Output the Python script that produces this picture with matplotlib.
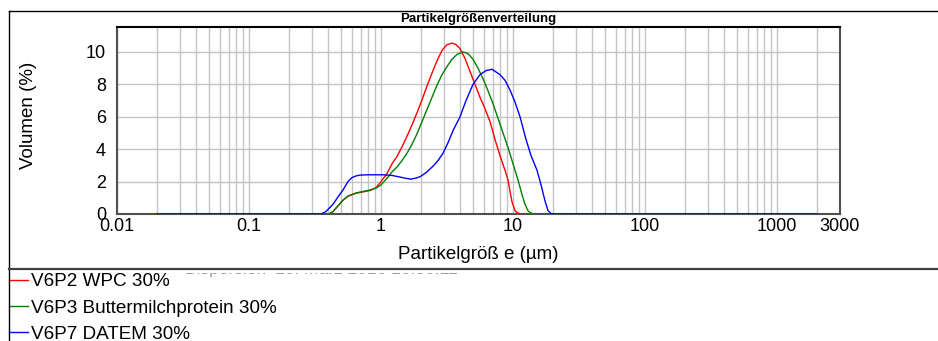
import matplotlib
matplotlib.use("Agg")
import matplotlib.pyplot as plt
from matplotlib.lines import Line2D
from matplotlib.patches import Rectangle
from matplotlib.ticker import FixedLocator, LogLocator, NullFormatter

plt.rcParams['font.family'] = ['Liberation Sans', 'DejaVu Sans']

# Partikelgröße in µm und Volumen in % je Probe
size_wpc = [0.02, 0.30, 0.404, 0.433, 0.472, 0.515, 0.562, 0.647, 0.743, 0.825,
            0.917, 1.0, 1.110, 1.212, 1.322, 1.443, 1.574, 1.718, 1.874, 2.045,
            2.231, 2.434, 2.656, 2.898, 3.162, 3.450, 3.700, 3.968, 4.329, 4.723,
            5.153, 5.623, 6.135, 6.694, 7.303, 7.971, 8.697, 9.165, 9.49, 9.826,
            10.36, 10.91, 11.70, 2000]
vol_wpc = [0, 0, 0, 0.15, 0.5, 0.85, 1.1, 1.28, 1.38, 1.45,
           1.62, 2.0, 2.5, 3.1, 3.55, 4.15, 4.8, 5.5, 6.25, 7.05,
           7.9, 8.7, 9.45, 10.1, 10.45, 10.55, 10.45, 10.2, 9.6, 8.8,
           8.0, 7.2, 6.5, 5.7, 4.6, 3.6, 2.7, 2.1, 1.4, 0.75,
           0.2, 0.05, 0, 0]

size_bmp = [0.02, 0.30, 0.404, 0.433, 0.472, 0.515, 0.562, 0.647, 0.743, 0.825,
            0.917, 1.0, 1.110, 1.212, 1.322, 1.443, 1.574, 1.718, 1.874, 2.045,
            2.231, 2.434, 2.656, 2.898, 3.162, 3.450, 3.766, 4.180, 4.561, 4.978,
            5.430, 5.926, 6.467, 7.058, 7.701, 8.40, 9.165, 10.0, 10.91, 11.70,
            12.33, 12.99, 13.69, 14.68, 2000]
vol_bmp = [0, 0, 0, 0.15, 0.5, 0.85, 1.1, 1.3, 1.4, 1.48,
           1.6, 1.8, 2.2, 2.6, 2.9, 3.3, 3.75, 4.3, 4.95, 5.7,
           6.45, 7.2, 7.95, 8.6, 9.1, 9.55, 9.85, 10.0, 9.9, 9.55,
           9.0, 8.35, 7.6, 6.8, 5.9, 5.0, 4.1, 3.1, 2.1, 1.2,
           0.6, 0.2, 0.05, 0, 0]

size_datem = [0.02, 0.30, 0.351, 0.383, 0.433, 0.472, 0.515, 0.562, 0.603, 0.647,
              0.693, 0.797, 1.036, 1.212, 1.393, 1.546, 1.688, 1.842, 1.975, 2.193,
              2.477, 2.703, 2.950, 3.219, 3.513, 3.968, 4.405, 4.978, 5.623, 6.246,
              6.934, 7.971, 8.697, 9.49, 10.36, 11.30, 12.55, 13.69, 14.18, 15.20,
              16.30, 17.48, 18.42, 19.41, 20.81, 2000]
vol_datem = [0, 0, 0, 0.15, 0.6, 1.05, 1.48, 2.0, 2.25, 2.35,
             2.4, 2.42, 2.42, 2.38, 2.28, 2.2, 2.15, 2.22, 2.3, 2.55,
             2.95, 3.3, 3.75, 4.4, 5.15, 6.0, 7.0, 8.0, 8.6, 8.85,
             8.93, 8.6, 8.25, 7.65, 6.9, 6.0, 4.6, 3.6, 3.3, 2.7,
             1.8, 0.8, 0.2, 0.03, 0, 0]

labels = ["V6P2 WPC 30%", "V6P3 Buttermilchprotein 30%", "V6P7 DATEM 30%"]
colors = ["#ff0000", "#008000", "#0000ff"]

x_ticks = [0.01, 0.1, 1, 10, 100, 1000, 3000]
x_ticklabels = ["0.01", "0.1", "1", "10", "100", "1000", "3000"]
y_ticks = [0, 2, 4, 6, 8, 10]

fig = plt.figure(figsize=(9.38, 3.41), dpi=100)
axis = fig.add_axes([117 / 938, 1 - 214 / 341, 723 / 938, 187 / 341])

series = [(size_wpc, vol_wpc), (size_bmp, vol_bmp), (size_datem, vol_datem)]
for (sizes, vols), label, color in zip(series, labels, colors):
    axis.plot(sizes, vols, color=color, lw=1.0, label=label, zorder=3)

axis.set_xscale("log")
axis.set_xlim(0.01, 3000)
axis.set_ylim(0, 11.54)
axis.xaxis.set_major_locator(FixedLocator(x_ticks))
axis.set_xticklabels(x_ticklabels)
axis.xaxis.set_minor_locator(LogLocator(base=10, subs=range(2, 10), numticks=20))
axis.xaxis.set_minor_formatter(NullFormatter())
axis.set_yticks(y_ticks)
axis.tick_params(which="both", length=0, labelsize=13)
axis.tick_params(axis="y", pad=8)
axis.tick_params(axis="x", pad=3)
axis.grid(True, which="both", color="#c4c4c4", lw=1.0)
axis.set_axisbelow(True)

for name, spine in axis.spines.items():
    spine.set_color("#000000" if name == "top" else "#505050")
    spine.set_linewidth(1.5)

axis.set_xlabel("Partikelgröß e (µm)", fontsize=13.5)
axis.xaxis.label.set_va("center")
axis.xaxis.set_label_coords(0.5, -0.219)
axis.set_ylabel("Volumen (%)", fontsize=13.5)
axis.yaxis.label.set_va("center")
axis.yaxis.set_label_coords(-0.123, 0.53)
axis.text(0.5, 1.042, "Partikelgrößenverteilung", transform=axis.transAxes,
          ha="center", va="center", fontsize=9.5, fontweight="bold")

# Rahmen um das Diagramm
x_left = 9 / 938
y_top = 1 - 11 / 341
y_sep = 1 - 268.5 / 341
fig.add_artist(Line2D([x_left, 1], [y_top, y_top], color="black", lw=1.0))
fig.add_artist(Line2D([x_left, x_left], [0, y_top], color="black", lw=1.0))
fig.add_artist(Line2D([x_left, 1], [y_sep, y_sep], color="#404040", lw=1.6))

# Infozeile, vom Diagrammbereich fast ganz verdeckt
y_info = 1 - 273.8 / 341
fig.text(185 / 938, y_info, "Dispersion", fontsize=12.5, color="#9a9a9a",
         va="baseline", zorder=-2)
fig.text(275 / 938, y_info, "10. März 2016 10:30:11", fontsize=12.5,
         color="#9a9a9a", va="baseline", zorder=-2)
fig.add_artist(Rectangle((0, 1 - 272.6 / 341), 1, 272.6 / 341,
                         transform=fig.transFigure, facecolor="white",
                         edgecolor="none", zorder=-1))

axis.legend(loc="upper left", bbox_to_anchor=(x_left, 1 - 273 / 341),
            bbox_transform=fig.transFigure, frameon=False, fontsize=13.6,
            handlelength=1.0, handletextpad=0.15, labelspacing=0.48,
            borderpad=0, borderaxespad=0)

fig.savefig("out.png", dpi=100)
